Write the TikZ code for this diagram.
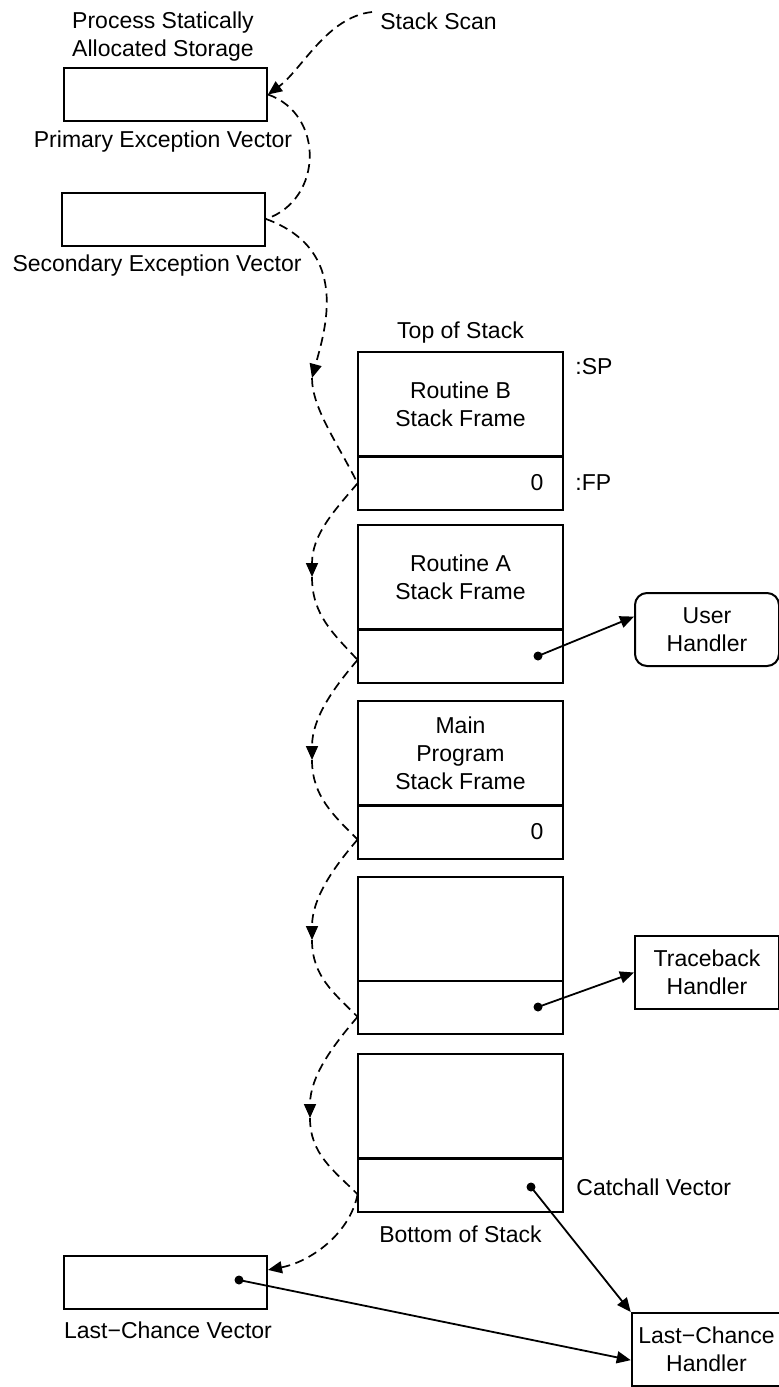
\documentclass[tikz,border=0pt]{standalone}
\usepackage{fontspec}
\setmainfont{Liberation Sans}
\usetikzlibrary{calc,positioning,arrows.meta}

\begin{document}
\begin{tikzpicture}[x=0.5pt, y=-0.5pt, font=\fontsize{11.5pt}{14pt}\selectfont]
    % plain text labels
    \tikzstyle{lbl}=[inner sep=2pt, align=center]
    % vectors kept outside the stack
    \tikzstyle{vec}=[draw, line width=1pt, minimum width=101.5pt, minimum height=26.5pt]
    % stack frames (upper part) and their handler slots (lower part)
    \tikzstyle{frm}=[draw, line width=1pt, outer sep=0.2pt, minimum width=102.5pt, minimum height=52pt, align=center]
    \tikzstyle{slot}=[draw, line width=1pt, outer sep=0.2pt, minimum width=102.5pt, minimum height=26.5pt]
    % handlers on the right
    \tikzstyle{hdl}=[draw, line width=1pt, minimum width=72pt, minimum height=36.5pt, align=center]
    \tikzstyle{dot}=[circle, fill, inner sep=0, minimum size=4.5pt]
    \tikzstyle{link}=[line width=0.9pt, -{Triangle[length=7pt, width=6pt]}]
    % dashed stack scan
    \tikzstyle{scan}=[line width=0.85pt, dash pattern=on 4.5pt off 2.8pt]
    \tikzstyle{scantip}=[-{Triangle[length=7pt, width=6pt]}]
    \useasboundingbox (0,0) rectangle (778,1387);
    \node[lbl] (psas) at (163,37) {Process Statically\\Allocated Storage};
    \node[vec] (pev) at (165.5,94.5) {};
    \node[lbl] (pevlbl) at (163,142) {Primary Exception Vector};
    \node[vec] (sev) at (163.5,219) {};
    \node[lbl] (sevlbl) at (157,266) {Secondary Exception Vector};
    \node[lbl, anchor=west] (scanlbl) at (376,21) {Stack Scan};
    \coordinate (scan0) at (372,12);
    % the stack
    \node[lbl] (tos) at (460.5,333) {Top of Stack};
    \node[frm] (frmB) at (460.5,404) {Routine B\\Stack Frame};
    \node[slot, below=0pt of frmB] (slotB) {};
    \node[frm] (frmA) at (460.5,577) {Routine A\\Stack Frame};
    \node[slot, below=0pt of frmA] (slotA) {};
    \node[frm] (frmM) at (460.5,753) {Main\\Program\\Stack Frame};
    \node[slot, below=0pt of frmM] (slotM) {};
    \node[frm] (frmC) at (460.5,928.5) {};
    \node[slot, below=0pt of frmC] (slotC) {};
    \node[frm] (frmD) at (460.5,1106) {};
    \node[slot, below=0pt of frmD] (slotD) {};
    \node[lbl] (bos) at (460.5,1234) {Bottom of Stack};
    \node[lbl] (zeroB) at (537,482.5) {0};
    \node[lbl] (zeroM) at (537,831.5) {0};
    \node[lbl, anchor=west] (sp) at (571,367) {:SP};
    \node[lbl, anchor=west] (fp) at (571,483) {:FP};
    \node[lbl, anchor=west] (cav) at (572,1187) {Catchall Vector};
    \node[vec] (lcv) at (165.5,1282.5) {};
    \node[lbl] (lcvlbl) at (168,1330) {Last−Chance Vector};
    % handlers
    \node[hdl, rounded corners=6pt] (uh) at (707,629.5) {User\\Handler};
    \node[hdl] (tb) at (707,972.5) {Traceback\\Handler};
    \node[hdl] (lch) at (706.5,1349.5) {Last−Chance\\Handler};
    \node[dot] (dA) at (538,656) {};
    \node[dot] (dC) at (538,1007) {};
    \node[dot] (dD) at (531,1187) {};
    \node[dot] (dL) at (239,1280) {};
    \draw[link] (dA.center) -- (uh.170);
    \draw[link] (dC.center) -- (tb.west);
    \draw[link] (dD.center) -- (lch.north west);
    \draw[link] (dL.center) -- (lch.188);
    % scan from the top down
    \coordinate (m0) at (312,378);
    \coordinate (m1) at (312,577);
    \coordinate (m2) at (312,760);
    \coordinate (m3) at (312,940);
    \coordinate (m4) at (310,1118);
    \draw[scan, scantip] (scan0) .. controls +(-45,5) and +(34,-25) .. (pev.east);
    \draw[scan] (pev.east) .. controls +(57,20) and +(57,-19) .. (sev.east);
    \draw[scan, scantip] (sev.east) .. controls +(85,31) and +(13,-48) .. (m0);
    \draw[scan] (m0) .. controls +(0,30) and +(-20,-40) .. (slotB.west);
    \draw[scan, scantip] (slotB.west) .. controls +(-24,28) and +(0,-42) .. (m1);
    \draw[scan] (m1) .. controls +(0,38) and +(-24,-26) .. (slotA.182);
    \draw[scan, scantip] (slotA.182) .. controls +(-24,28) and +(0,-42) .. (m2);
    \draw[scan] (m2) .. controls +(0,36) and +(-24,-24) .. (slotM.184);
    \draw[scan, scantip] (slotM.184) .. controls +(-24,28) and +(0,-42) .. (m3);
    \draw[scan] (m3) .. controls +(0,36) and +(-24,-24) .. (slotC.185);
    \draw[scan, scantip] (slotC.185) .. controls +(-24,28) and +(0,-42) .. (m4);
    \draw[scan] (m4) .. controls +(0,36) and +(-24,-24) .. (slotD.185);
    \draw[scan, scantip] (slotD.185) .. controls +(-8,40) and +(42,-8) .. (lcv.7);
\end{tikzpicture}
\end{document}
